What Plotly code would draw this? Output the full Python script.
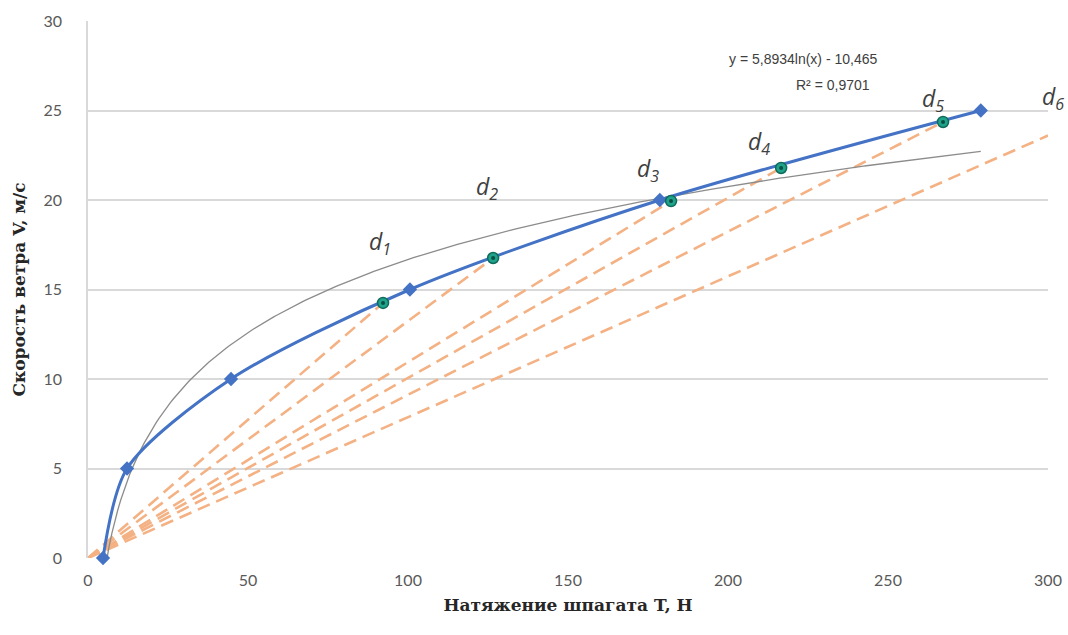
import numpy as np
import plotly.graph_objects as go

# ---- data ----
tension_blue = [4.7, 12.2, 44.7, 100.6, 178.7, 279.0]      # T, N
speed_blue = [0, 5, 10, 15, 20, 25]                         # V, m/s

tension_green = [92.2, 126.6, 182.2, 216.6, 267.2]
speed_green = [14.25, 16.76, 19.94, 21.79, 24.36]

ray_end_x = [92.2, 126.6, 182.2, 216.6, 267.2, 300.0]       # dashed rays from origin
ray_end_y = [14.25, 16.76, 19.94, 21.79, 24.36, 23.6]

ray_labels = ["1", "2", "3", "4", "5", "6"]
label_x = [91.3, 124.7, 175.0, 209.7, 264.0, 300.0]
label_y = [17.6, 20.7, 21.7, 23.2, 25.6, 25.7]
label_shift = [0, 0, 0, 0, 0, 5]

trend_a = 5.8934
trend_b = -10.465
trend_r2 = "0,9701"

x_ticks = [0, 50, 100, 150, 200, 250, 300]
y_ticks = [0, 5, 10, 15, 20, 25, 30]

fig = go.Figure()

# dashed rays
for xe, ye in zip(ray_end_x, ray_end_y):
    fig.add_trace(go.Scatter(
        x=[0, xe], y=[0, ye], mode="lines",
        line=dict(color="#F4B183", width=2.6, dash="13px,7px"),
        showlegend=False, hoverinfo="skip"))

# logarithmic trendline from the displayed equation
tx = np.linspace(min(tension_blue), max(tension_blue), 300)
ty = trend_a * np.log(tx) + trend_b
fig.add_trace(go.Scatter(
    x=tx, y=ty, mode="lines",
    line=dict(color="#8c8c8c", width=1.3),
    showlegend=False, hoverinfo="skip"))

# blue measured curve
fig.add_trace(go.Scatter(
    x=tension_blue, y=speed_blue, mode="lines+markers",
    line=dict(color="#4472C4", width=3, shape="spline", smoothing=0.8),
    marker=dict(symbol="diamond", size=11, color="#4472C4"),
    cliponaxis=False, showlegend=False))

# green points
fig.add_trace(go.Scatter(
    x=tension_green, y=speed_green, mode="markers",
    marker=dict(symbol="circle", size=11, color="#1fa38a",
                line=dict(color="#0f6b5b", width=1.5)),
    showlegend=False))
fig.add_trace(go.Scatter(
    x=tension_green, y=speed_green, mode="markers",
    marker=dict(symbol="circle", size=4, color="#0b4f43"),
    showlegend=False, hoverinfo="skip"))

# d labels
for lab, lx, ly, sh in zip(ray_labels, label_x, label_y, label_shift):
    fig.add_annotation(
        x=lx, y=ly, xshift=sh, text=f"<i>d<sub>{lab}</sub></i>", showarrow=False,
        font=dict(family="Open Sans", size=23, color="#404040"))

# trendline equation
fig.add_annotation(
    x=223.4, y=27.9,
    text=f"y = {str(trend_a).replace('.', ',')}ln(x) - {str(-trend_b).replace('.', ',')}",
    showarrow=False, font=dict(family="Liberation Sans", size=14, color="#404040"))
fig.add_annotation(
    x=232.8, y=26.4, text=f"R² = {trend_r2}", showarrow=False,
    font=dict(family="Liberation Sans", size=14, color="#404040"))

fig.update_layout(
    width=1068, height=635,
    margin=dict(l=88, r=20, t=21, b=77),
    plot_bgcolor="white", paper_bgcolor="white",
    font=dict(family="Lato", size=16, color="#595959"),
)
fig.update_xaxes(
    range=[0, 300], tickvals=x_ticks, showgrid=False, zeroline=False,
    showline=False, ticks="outside", ticklen=8, tickcolor="rgba(0,0,0,0)",
    automargin=False,
    tickfont=dict(family="Lato", size=16, color="#595959"),
    title=dict(text="<b>Натяжение шпагата T, Н</b>", standoff=10,
               font=dict(family="DejaVu Serif", size=17, color="#262626")),
)
fig.update_yaxes(
    range=[0, 30], tickvals=y_ticks, showgrid=True, gridcolor="#d9d9d9",
    gridwidth=1.5, zeroline=False, showline=True, linecolor="#d9d9d9",
    linewidth=1.5, ticks="outside", ticklen=21, tickcolor="rgba(0,0,0,0)",
    automargin=False,
    tickfont=dict(family="Lato", size=16, color="#595959"),
    title=dict(text="<b>Скорость ветра V, м/с</b>", standoff=14,
               font=dict(family="DejaVu Serif", size=17, color="#262626")),
)

fig.write_html("out.html",
               config={"displayModeBar": False},
               post_script="document.body.style.margin='0';document.body.style.overflow='hidden';")
